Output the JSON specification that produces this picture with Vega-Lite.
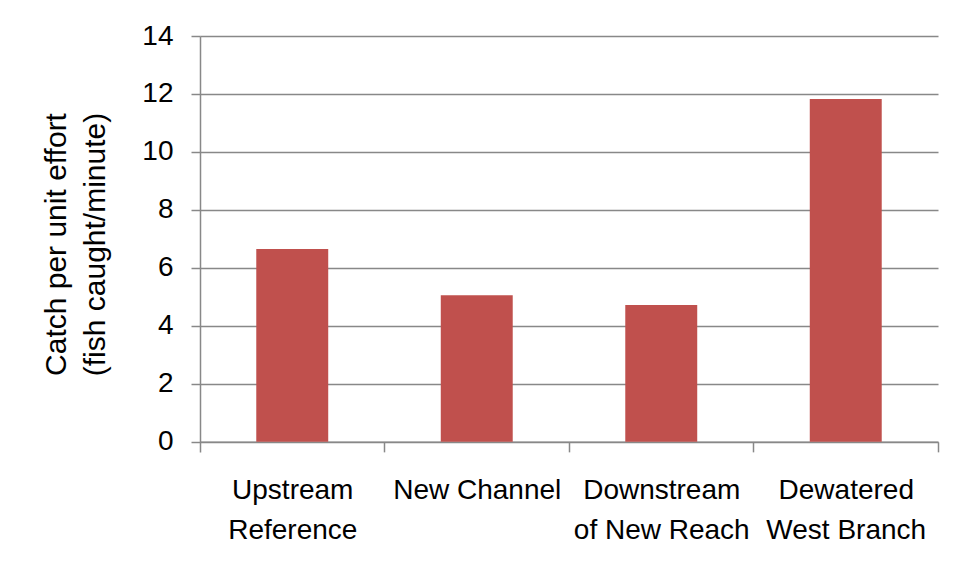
{
  "$schema": "https://vega.github.io/schema/vega-lite/v6.json",
  "width": 738,
  "height": 416,
  "autosize": "none",
  "padding": {"left": 200, "top": 36, "right": 20, "bottom": 125},
  "background": "white",
  "config": {
    "view": {"stroke": null},
    "font": "Liberation Sans"
  },
  "data": {
    "values": [
      {"site": "Upstream|Reference", "cpue": 6.65},
      {"site": "New Channel", "cpue": 5.06},
      {"site": "Downstream|of New Reach", "cpue": 4.72},
      {"site": "Dewatered|West Branch", "cpue": 11.83}
    ]
  },
  "mark": {"type": "bar", "color": "#C0504D"},
  "encoding": {
    "x": {
      "field": "site",
      "type": "nominal",
      "sort": null,
      "scale": {"paddingInner": 0.61, "paddingOuter": 0.305},
      "axis": {
        "title": null,
        "offset": -10.14,
        "labelAngle": 0,
        "labelExpr": "split(datum.label, '|')",
        "labelFontSize": 28,
        "labelColor": "#000000",
        "labelLineHeight": 40,
        "labelPadding": 25,
        "labelFont": "Liberation Sans",
        "bandPosition": 1,
        "tickOffset": 56.27,
        "labelOffset": -56.27,
        "tickSize": 10,
        "tickColor": "#888888",
        "tickWidth": 1.5,
        "domainColor": "#888888",
        "domainWidth": 1.5,
        "grid": false
      }
    },
    "y": {
      "field": "cpue",
      "type": "quantitative",
      "scale": {"domain": [-0.35, 14], "nice": false, "zero": false},
      "axis": {
        "values": [0, 2, 4, 6, 8, 10, 12, 14],
        "title": ["Catch per unit effort", "(fish caught/minute)"],
        "titleFontSize": 30,
        "titleFontWeight": "normal",
        "titleColor": "#000000",
        "titleLineHeight": 39,
        "titlePadding": 31,
        "titleFont": "Liberation Sans",
        "labelFontSize": 28,
        "labelColor": "#000000",
        "labelPadding": 18,
        "labelFont": "Liberation Sans",
        "tickSize": 9,
        "tickColor": "#888888",
        "tickWidth": 1.5,
        "domainColor": "#888888",
        "domainWidth": 1.5,
        "grid": true,
        "gridColor": "#888888",
        "gridWidth": 1.5
      }
    },
    "y2": {"datum": 0}
  }
}
